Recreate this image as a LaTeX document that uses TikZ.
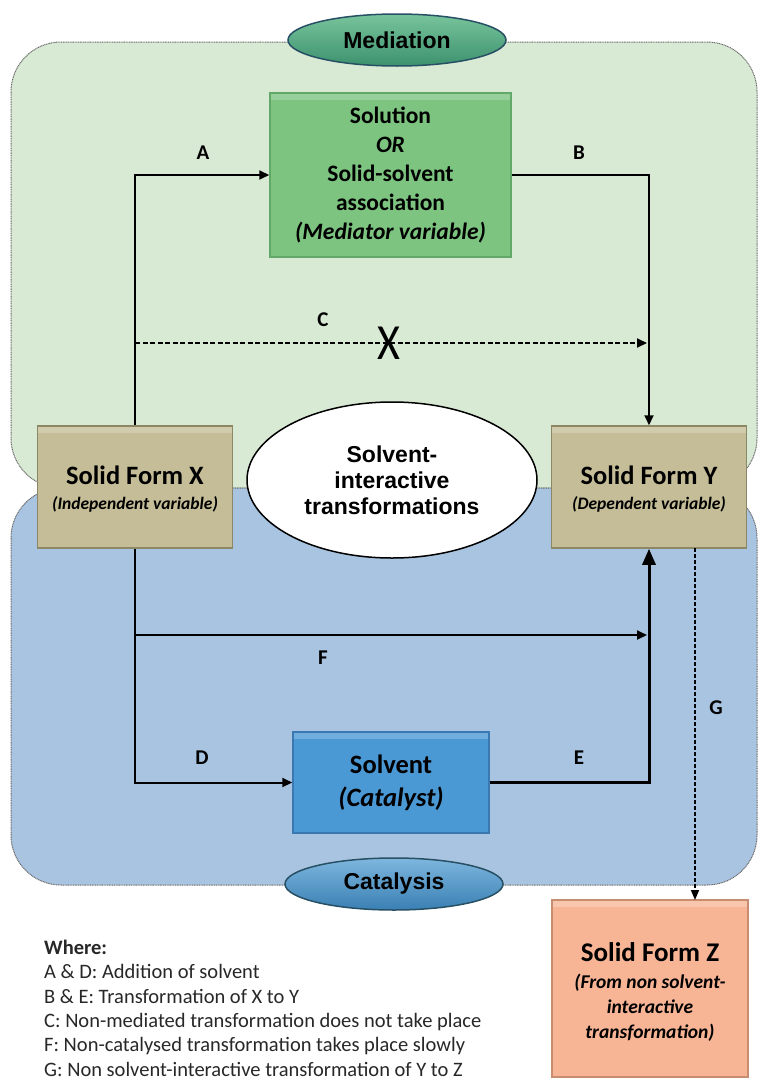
\documentclass[tikz,border=0pt]{standalone}
\usepackage{fontspec}
\setmainfont{Carlito}
\newfontfamily\arialf{Liberation Sans}
\usetikzlibrary{shapes.geometric,arrows.meta}
\definecolor{greenbg}{RGB}{216,234,212}
\definecolor{bluebg}{RGB}{169,196,225}
\definecolor{medgreen}{RGB}{124,196,128}
\definecolor{medborder}{RGB}{98,168,104}
\definecolor{tanfill}{RGB}{196,189,151}
\definecolor{tanborder}{RGB}{140,135,100}
\definecolor{solvblue}{RGB}{74,152,212}
\definecolor{solvborder}{RGB}{58,120,178}
\definecolor{salmon}{RGB}{247,181,150}
\definecolor{salmonborder}{RGB}{200,140,112}
\definecolor{regionborder}{RGB}{105,105,105}
\definecolor{medtop}{RGB}{120,196,156}
\definecolor{medbot}{RGB}{60,146,110}
\definecolor{cattop}{RGB}{126,182,222}
\definecolor{catbot}{RGB}{58,128,180}
\definecolor{ellborder}{RGB}{40,80,100}
\definecolor{legendtext}{RGB}{40,40,40}
\begin{document}
\begin{tikzpicture}[x=1pt,y=-1pt,
  region/.style={draw=regionborder, line width=1pt, dash pattern=on 1pt off 0.7pt, rounded corners=50pt},
  arr/.style={line width=2pt, -{Triangle[length=10pt,width=9pt]}},
  plain/.style={line width=2pt},
  lbl/.style={font=\fontsize{21}{24}\selectfont\bfseries, inner sep=0pt},
  bevel/.style={path picture={\fill[white,opacity=0.22] (path picture bounding box.north west) rectangle ([yshift=-7pt]path picture bounding box.north east);}},
  box/.style={rectangle, line width=1.5pt, align=center, inner sep=2pt, bevel},
  tanbox/.style={box, fill=tanfill, draw=tanborder, minimum width=195pt, minimum height=122pt},
  boxtext/.style={align=center, font=\fontsize{26.5}{25}\selectfont, inner sep=2pt},
  oval/.style={ellipse, line width=1.5pt, draw=ellborder, minimum width=218pt, minimum height=52pt,
    font=\arialf\bfseries\fontsize{23}{24}\selectfont, inner sep=0pt}
]
\useasboundingbox (0,0) rectangle (759,1082);
\fill[white] (0,0) rectangle (759,1082);

% regions
\draw[region, fill=greenbg] (11,42) rectangle (757,488);
\draw[region, fill=bluebg] (11,488) rectangle (757,885);

% nodes
\node[oval, top color=medtop, bottom color=medbot] (med) at (397,40) {Mediation};
\node[oval, top color=cattop, bottom color=catbot] (cat) at (394,884) {Catalysis};

\node[box, fill=medgreen, draw=medborder, minimum width=241pt, minimum height=164pt,
  font=\fontsize{23.5}{29}\selectfont\bfseries] (M) at (390.5,175)
  {Solution\\\textit{OR}\\Solid-solvent\\association\\\textit{(Mediator variable)}};

\node[tanbox] (X) at (135,487) {};
\node[boxtext] (Xtext) at (135,489)
  {\bfseries Solid Form X\\
   \fontsize{17.5}{25}\selectfont\bfseries\itshape (Independent variable)};
\node[tanbox] (Y) at (649,487) {};
\node[boxtext] (Ytext) at (649,489)
  {\bfseries Solid Form Y\\
   \fontsize{17.5}{25}\selectfont\bfseries\itshape (Dependent variable)};

\node[ellipse, draw=black, line width=1.5pt, fill=white, minimum width=290pt, minimum height=156pt,
  align=center, font=\arialf\bfseries\fontsize{23}{26}\selectfont] (T) at (392,480)
  {Solvent-\\interactive\\transformations};

\node[box, fill=solvblue, draw=solvborder, minimum width=196pt, minimum height=101pt,
  font=\fontsize{26.5}{33}\selectfont\bfseries] (S) at (391,782.5)
  {Solvent\\\textit{(Catalyst)}};

\node[box, fill=salmon, draw=salmonborder, minimum width=196pt, minimum height=177pt] (Z) at (650,988.5) {};
\node[align=center, font=\fontsize{19.5}{25}\selectfont, inner sep=0pt] (Ztext) at (650,992)
  {\fontsize{27}{25}\selectfont\bfseries Solid Form Z\\[2pt]
   \fontsize{19.5}{25}\selectfont\bfseries\itshape (From non solvent-\\
   \fontsize{19.5}{25}\selectfont\bfseries\itshape interactive\\
   \fontsize{19.5}{25}\selectfont\bfseries\itshape transformation)};

% helper coordinates
\coordinate (c1) at (135,343);
\coordinate (c2) at (647,343);
\coordinate (f1) at (135,635);
\coordinate (f2) at (647,635);
\coordinate (g1) at (695,548);
\coordinate (g2) at (695,900);

% connectors
\draw[arr] (X.north) |- (M.west);
\draw[arr] (M.east) -| (Y.north);
\draw[line width=2pt, dash pattern=on 5pt off 2.5pt, -{Triangle[length=10pt,width=9pt]}] (c1) -- (c2);
\draw[plain] (X.south) -- (f1);
\draw[arr] (f1) -- (f2);
\draw[arr] (f1) |- (S.west);
\draw[line width=3pt, -{Triangle[length=16pt,width=13pt]}] (S.east) -| (Y.south);
\draw[line width=1.5pt, dash pattern=on 4pt off 2pt, -{Triangle[length=10pt,width=8pt]}] (g1) -- (g2);

% labels
\node[lbl] (la) at (203,153) {A};
\node[lbl] (lb) at (579,153) {B};
\node[lbl] (lc) at (323,320) {C};
\node[font=\fontsize{44}{44}\selectfont, inner sep=0pt, yscale=1.15] (xm) at (389,343) {X};
\node[lbl] (lf) at (323,658) {F};
\node[lbl] (ld) at (202,758) {D};
\node[lbl] (le) at (579,758) {E};
\node[lbl] (lg) at (716,708) {G};

% legend
\node[anchor=north west, align=left, inner sep=0pt, text=legendtext, font=\fontsize{20.5}{24.3}\selectfont] (L) at (44,940)
  {\textbf{Where:}\\
   A \& D: Addition of solvent\\
   B \& E: Transformation of X to Y\\
   C: Non-mediated transformation does not take place\\
   F: Non-catalysed transformation takes place slowly\\
   G: Non solvent-interactive transformation of Y to Z};
\end{tikzpicture}
\end{document}
